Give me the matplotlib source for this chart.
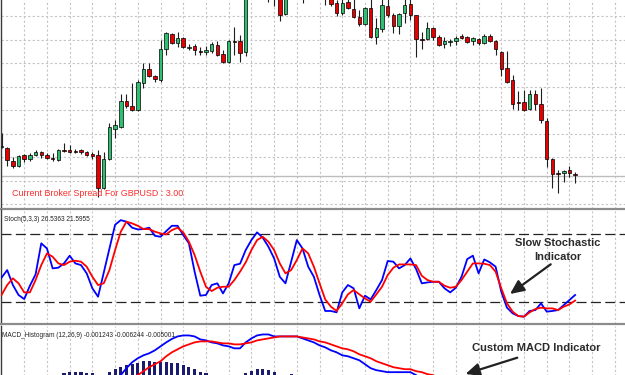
import numpy as np
import matplotlib
matplotlib.use('Agg')
import matplotlib.pyplot as plt
from matplotlib.patches import FancyArrowPatch

# GBPUSD candles (oldest -> newest)
open_ = [1.5853, 1.5852, 1.5839, 1.5834, 1.5845, 1.5841, 1.5845, 1.5848, 1.5845, 1.5842,
         1.5840, 1.5850, 1.5850, 1.5849, 1.5850, 1.5848, 1.5846, 1.5845, 1.5812, 1.5841,
         1.5871, 1.5873, 1.5899, 1.5894, 1.5890, 1.5917, 1.5931, 1.5924, 1.5920, 1.5951,
         1.5966, 1.5957, 1.5962, 1.5952, 1.5954, 1.5949, 1.5948, 1.5949, 1.5955, 1.5946,
         1.5938, 1.5959, 1.5959, 1.5948, 1.6012, 1.6025, 1.6018, 1.6008, 1.6006, 1.6005,
         1.5986, 1.6006, 1.6014, 1.6008, 1.6003, 1.6012, 1.6006, 1.6008, 1.6004, 1.5997,
         1.5987, 1.5998, 1.5991, 1.5983, 1.5976, 1.5992, 1.5963, 1.5971, 1.5994, 1.5985,
         1.5974, 1.5987, 1.5996, 1.5985, 1.5961, 1.5961, 1.5972, 1.5963, 1.5956, 1.5958,
         1.5959, 1.5964, 1.5963, 1.5959, 1.5961, 1.5957, 1.5964, 1.5959, 1.5948, 1.5932,
         1.5920, 1.5898, 1.5898, 1.5891, 1.5906, 1.5896, 1.5879, 1.5841, 1.5827, 1.5827,
         1.5830, 1.5826]
high = [1.5867, 1.5853, 1.5843, 1.5845, 1.5846, 1.5847, 1.5850, 1.5849, 1.5847, 1.5847,
        1.5851, 1.5857, 1.5855, 1.5851, 1.5851, 1.5849, 1.5848, 1.5850, 1.5848, 1.5877,
        1.5880, 1.5906, 1.5906, 1.5917, 1.5920, 1.5937, 1.5937, 1.5925, 1.5960, 1.5968,
        1.5967, 1.5968, 1.5963, 1.5956, 1.5956, 1.5953, 1.5954, 1.5958, 1.5959, 1.5950,
        1.5960, 1.5973, 1.5965, 1.6015, 1.6030, 1.6032, 1.6026, 1.6015, 1.6014, 1.6010,
        1.6012, 1.6020, 1.6022, 1.6014, 1.6018, 1.6020, 1.6014, 1.6012, 1.6010, 1.6000,
        1.6002, 1.6004, 1.6002, 1.5990, 1.5993, 1.6003, 1.5982, 1.6002, 1.6001, 1.5987,
        1.5987, 1.6001, 1.6001, 1.5985, 1.5968, 1.5978, 1.5973, 1.5965, 1.5963, 1.5961,
        1.5964, 1.5966, 1.5964, 1.5963, 1.5962, 1.5966, 1.5966, 1.5960, 1.5949, 1.5949,
        1.5925, 1.5909, 1.5910, 1.5910, 1.5910, 1.5912, 1.5882, 1.5842, 1.5830, 1.5830,
        1.5834, 1.5828]
low = [1.5852, 1.5834, 1.5832, 1.5833, 1.5838, 1.5839, 1.5844, 1.5842, 1.5841, 1.5839,
       1.5839, 1.5848, 1.5847, 1.5847, 1.5846, 1.5844, 1.5841, 1.5803, 1.5811, 1.5840,
       1.5862, 1.5872, 1.5892, 1.5889, 1.5889, 1.5912, 1.5923, 1.5918, 1.5918, 1.5945,
       1.5956, 1.5953, 1.5952, 1.5950, 1.5945, 1.5945, 1.5945, 1.5947, 1.5944, 1.5937,
       1.5937, 1.5945, 1.5938, 1.5944, 1.6005, 1.6010, 1.6002, 1.5998, 1.5994, 1.5979,
       1.5985, 1.6002, 1.6003, 1.5997, 1.6001, 1.6002, 1.6001, 1.5995, 1.5994, 1.5984,
       1.5985, 1.5991, 1.5982, 1.5974, 1.5975, 1.5962, 1.5956, 1.5968, 1.5983, 1.5967,
       1.5966, 1.5977, 1.5980, 1.5943, 1.5951, 1.5960, 1.5960, 1.5954, 1.5952, 1.5954,
       1.5955, 1.5961, 1.5957, 1.5955, 1.5955, 1.5956, 1.5958, 1.5945, 1.5924, 1.5917,
       1.5891, 1.5890, 1.5889, 1.5890, 1.5890, 1.5877, 1.5833, 1.5812, 1.5807, 1.5818,
       1.5823, 1.5817]
close = [1.5854, 1.5840, 1.5834, 1.5844, 1.5841, 1.5845, 1.5848, 1.5845, 1.5842, 1.5841,
         1.5850, 1.5849, 1.5848, 1.5848, 1.5848, 1.5845, 1.5844, 1.5812, 1.5841, 1.5873,
         1.5875, 1.5899, 1.5894, 1.5890, 1.5918, 1.5931, 1.5924, 1.5921, 1.5951, 1.5967,
         1.5957, 1.5962, 1.5953, 1.5953, 1.5950, 1.5948, 1.5950, 1.5956, 1.5945, 1.5938,
         1.5959, 1.5958, 1.5947, 1.6012, 1.6025, 1.6018, 1.6008, 1.6005, 1.6002, 1.5985,
         1.6006, 1.6014, 1.6008, 1.6002, 1.6012, 1.6006, 1.6003, 1.6002, 1.5996, 1.5987,
         1.5997, 1.5992, 1.5983, 1.5976, 1.5992, 1.5963, 1.5972, 1.5995, 1.5985, 1.5974,
         1.5986, 1.5995, 1.5985, 1.5961, 1.5960, 1.5972, 1.5963, 1.5955, 1.5959, 1.5959,
         1.5962, 1.5962, 1.5958, 1.5962, 1.5957, 1.5964, 1.5959, 1.5951, 1.5931, 1.5918,
         1.5896, 1.5897, 1.5890, 1.5906, 1.5896, 1.5880, 1.5841, 1.5826, 1.5826, 1.5829,
         1.5827, 1.5825]
bid_price = 1.5824

# Stochastic (5,3,3)
stoch_k = [41.8, 48.5, 35.3, 26.5, 22.9, 34.7, 44.7, 72.1, 67.6, 50.0,
           50.6, 54.4, 61.2, 54.4, 52.9, 45.6, 32.4, 25.0, 46.2, 67.4,
           88.5, 92.6, 91.2, 85.9, 84.4, 84.7, 85.9, 78.8, 77.9, 82.9,
           87.6, 87.6, 79.4, 72.1, 47.1, 25.9, 26.5, 35.3, 36.8, 27.9,
           36.8, 52.9, 54.1, 66.2, 75.0, 81.8, 77.1, 69.1, 58.8, 42.6,
           36.8, 55.9, 75.0, 67.6, 51.5, 42.6, 26.5, 12.4, 12.4, 11.2,
           28.8, 35.3, 32.4, 14.7, 25.9, 22.6, 30.9, 39.7, 56.5, 55.9,
           50.0, 52.9, 58.8, 49.4, 36.8, 37.6, 38.2, 38.2, 32.4, 28.8,
           32.9, 42.6, 58.2, 61.2, 45.6, 57.9, 55.3, 51.5, 29.4, 15.3,
           10.3, 7.9, 7.4, 12.4, 13.2, 19.1, 11.8, 12.4, 13.2, 17.6,
           22.1, 26.5]
stoch_d = [26.5, 35.3, 41.2, 36.8, 28.8, 28.8, 39.7, 52.9, 63.2, 60.3,
           54.4, 52.9, 55.9, 56.8, 55.9, 51.5, 42.6, 35.3, 36.8, 48.5,
           66.2, 82.4, 91.2, 89.7, 87.6, 84.7, 84.7, 82.4, 80.9, 80.0,
           83.8, 85.9, 81.8, 73.5, 61.8, 47.1, 33.8, 30.0, 32.9, 33.8,
           33.8, 39.7, 47.1, 55.3, 66.2, 75.0, 77.9, 73.5, 66.2, 54.4,
           45.6, 48.5, 57.4, 67.6, 63.2, 51.5, 36.8, 22.6, 16.2, 12.4,
           19.1, 27.1, 30.9, 27.1, 23.5, 20.6, 27.1, 33.8, 44.1, 50.6,
           53.5, 53.5, 53.5, 52.9, 43.5, 39.7, 38.2, 38.2, 34.7, 32.9,
           33.8, 39.7, 47.1, 54.4, 54.4, 54.1, 52.9, 47.1, 32.4, 19.1,
           11.8, 7.9, 7.4, 11.2, 14.1, 15.3, 14.7, 14.7, 13.2, 16.2,
           18.2, 21.6]

# custom MACD (12,26,9)
macd_main = [0.0009, 0.0008, 0.0006, 0.0005, 0.0004, 0.0004, 0.0004, 0.0005, 0.0006, 0.0006,
             0.0006, 0.0007, 0.0007, 0.0007, 0.0007, 0.0006, 0.0005, 0.0002, 0.0003, 0.0007,
             0.0011, 0.0015, 0.0022, 0.0028, 0.0032, 0.0035, 0.0037, 0.0040, 0.0044, 0.0048,
             0.00515, 0.0054, 0.0055, 0.0055, 0.0054, 0.0051, 0.0050, 0.0048, 0.0047, 0.0045,
             0.0044, 0.0042, 0.0042, 0.0048, 0.0052, 0.0055, 0.0056, 0.0056, 0.0054, 0.0054,
             0.0054, 0.0054, 0.0054, 0.0052, 0.0050, 0.0048, 0.0045, 0.0043, 0.0040, 0.0038,
             0.0035, 0.0034, 0.0032, 0.0030, 0.0026, 0.0022, 0.0020, 0.0019, 0.0018, 0.0018,
             0.0018, 0.0018, 0.0018, 0.0015, 0.0011, 0.0006, 0.0001, -0.0004, -0.0009, -0.0013,
             -0.0017, -0.0020, -0.0023, -0.0025, -0.0027, -0.0029, -0.0031, -0.0034, -0.0038, -0.0042,
             -0.0047, -0.0051, -0.0054, -0.0056, -0.0058, -0.0059, -0.0061, -0.0065, -0.0068, -0.0067,
             -0.0064, -0.006244]
macd_signal = [0.0010, 0.0010, 0.0009, 0.0008, 0.0007, 0.0006, 0.0006, 0.0005, 0.0005, 0.0005,
               0.0005, 0.0006, 0.0006, 0.0006, 0.0006, 0.0006, 0.0006, 0.0005, 0.0005, 0.0005,
               0.0006, 0.0008, 0.0010, 0.0013, 0.0015, 0.0019, 0.0023, 0.0026, 0.0029, 0.0034,
               0.0038, 0.0041, 0.0044, 0.0046, 0.0048, 0.0049, 0.0049, 0.0049, 0.0048, 0.0047,
               0.0047, 0.0046, 0.0046, 0.0047, 0.0048, 0.0050, 0.0051, 0.0052, 0.0053, 0.0054,
               0.0054, 0.0054, 0.0054, 0.0053, 0.0052, 0.0051, 0.0049, 0.0048, 0.0046, 0.0044,
               0.0042, 0.0041, 0.0039, 0.0036, 0.0034, 0.0032, 0.0029, 0.0027, 0.0025, 0.0023,
               0.0022, 0.0021, 0.0021, 0.0019, 0.0018, 0.0016, 0.0015, 0.0012, 0.0009, 0.0006,
               0.0003, 0.0000, -0.0003, -0.0006, -0.0009, -0.0012, -0.0015, -0.0018, -0.0021, -0.0024,
               -0.0027, -0.0030, -0.0033, -0.0036, -0.0039, -0.0041, -0.0043, -0.0045, -0.0047, -0.0048,
               -0.0049, -0.005001]
macd_hist = [0.0004, 0.0003, 0.0002, 0.0002, 0.0003, 0.0004, 0.0005, 0.0006, 0.0007, 0.0008,
             0.0010, 0.0017, 0.0018, 0.0018, 0.0018, 0.0017, 0.0017, 0.0011, 0.0013, 0.0018,
             0.0021, 0.0023, 0.0025, 0.0026, 0.0027, 0.0029, 0.0029, 0.0028, 0.0028, 0.0028,
             0.0027, 0.0027, 0.0025, 0.0023, 0.0021, 0.0018, 0.0017, 0.0013, 0.0011, 0.0009,
             0.0008, 0.0010, 0.0012, 0.0017, 0.0019, 0.0021, 0.0021, 0.0020, 0.0018, 0.0014,
             0.0013, 0.0016, 0.0012, 0.0010, 0.0008, 0.0006, 0.0004, 0.0002, 0.0000, -0.0002,
             -0.0004, -0.0005, -0.0006, -0.0007, -0.0008, -0.0009, -0.0010, -0.0011, -0.0011, -0.0012,
             -0.0012, -0.0012, -0.0013, -0.0013, -0.0013, -0.0014, -0.0014, -0.0014, -0.0015, -0.0015,
             -0.0015, -0.0015, -0.0016, -0.0016, -0.0016, -0.0016, -0.0016, -0.0015, -0.0015, -0.0015,
             -0.0015, -0.0014, -0.0014, -0.0014, -0.0013, -0.0013, -0.0013, -0.0013, -0.0012, -0.0012,
             -0.0012, -0.001243]

spread_text = 'Current Broker Spread For GBPUSD : 3.00'
stoch_title = 'Stoch(5,3,3) 26.5363 21.5955'
macd_title = 'MACD_Histogram (12,26,9) -0.001243 -0.006244 -0.005001'

W, H = 625, 375


def fig_xy(px, py):
    # pixel from top-left -> figure fraction
    return px / W, 1 - py / H


def fig_rect(top, bottom):
    return [1 / W, 1 - bottom / H, 1.0, (bottom - top) / H]


fig = plt.figure(figsize=(W / 100, H / 100), dpi=100)
fig.patch.set_facecolor('white')

ax_main = fig.add_axes(fig_rect(0, 208.5))
ax_stoch = fig.add_axes(fig_rect(210.5, 324))
ax_macd = fig.add_axes(fig_rect(326.5, 395))

x = np.arange(len(close))
xlim = (-0.09, 109.96)

grid_kw = dict(color='#c4c4c4', linestyle=(0, (2, 2)), linewidth=0.8)
for ax in (ax_main, ax_stoch, ax_macd):
    ax.set_xlim(*xlim)
    ax.set_xticks(np.arange(4, 110, 4))
    ax.tick_params(length=0, labelbottom=False, labelleft=False)
    ax.grid(axis='x', **grid_kw)
    ax.set_axisbelow(True)
    for side in ('top', 'right'):
        ax.spines[side].set_visible(False)
    ax.spines['left'].set_color('#3a3a3a')
    ax.spines['left'].set_linewidth(1.0)
    ax.spines['bottom'].set_color('#8c8c8c')
    ax.spines['bottom'].set_linewidth(1.6)

# main chart
o = np.array(open_)
c = np.array(close)
up = c >= o
body_bottom = np.minimum(o, c)
body_height = np.maximum(np.abs(c - o), 0.00008)
ax_main.vlines(x, low, high, colors='#1e1e1e', linewidth=0.8, zorder=2)
ax_main.bar(x, body_height, bottom=body_bottom, width=0.62,
            color=np.where(up, '#2fbf71', '#e60000'), edgecolor='black',
            linewidth=0.5, zorder=3)
ax_main.axhline(bid_price, color='#bdbdbd', linewidth=1.0, zorder=1)
ax_main.set_ylim(1.57915, 1.6000)
ax_main.set_yticks(np.arange(1.5984, 1.5790, -0.000235 * 10))
ax_main.grid(axis='y', **grid_kw)

# stochastic
ax_stoch.plot(x, stoch_k, color='#0000ff', linewidth=1.3, zorder=3)
ax_stoch.plot(x, stoch_d, color='#ff0000', linewidth=1.3, zorder=3)
for level in (80, 20):
    ax_stoch.axhline(level, color='#222222', linewidth=0.9, dashes=(8, 3.5), zorder=2)
ax_stoch.set_ylim(0.9, 101.1)

# macd
ax_macd.bar(x, macd_hist, width=0.55, color='#1c1c6e', zorder=2)
ax_macd.plot(x, macd_main, color='#0000ff', linewidth=1.3, zorder=3)
ax_macd.plot(x, macd_signal, color='#ff0000', linewidth=1.3, zorder=3)
ax_macd.set_ylim(-0.0005, 0.0064)

# texts
fig.text(*fig_xy(12.3, 196), spread_text, color='#ff2a2a', fontsize=6.4,
         family='Liberation Sans', va='baseline')
fig.text(*fig_xy(3.5, 221), stoch_title, color='#222222', fontsize=4.7,
         family='Liberation Sans', va='baseline')
fig.text(*fig_xy(1.7, 337), macd_title, color='#222222', fontsize=4.7,
         family='Liberation Sans', va='baseline')

note_kw = dict(color='#2b2b2b', fontsize=8, fontweight='bold',
               family='Liberation Sans', ha='center', va='baseline')
fig.text(*fig_xy(557.8, 245.7), 'Slow Stochastic', **note_kw)
fig.text(*fig_xy(557.8, 259.5), 'Indicator', **note_kw)
fig.text(*fig_xy(536.7, 350.7), 'Custom MACD Indicator', **note_kw)

arrow_kw = dict(arrowstyle='-|>,head_length=0.7,head_width=0.32',
                mutation_scale=12, color='#222222', linewidth=1.6,
                shrinkA=0, shrinkB=0, transform=fig.transFigure)
fig.add_artist(FancyArrowPatch(fig_xy(550.7, 264.3), fig_xy(510, 294), **arrow_kw))
fig.add_artist(FancyArrowPatch(fig_xy(517.3, 357.7), fig_xy(465.5, 374), **arrow_kw))

fig.savefig('out.png', dpi=100)
